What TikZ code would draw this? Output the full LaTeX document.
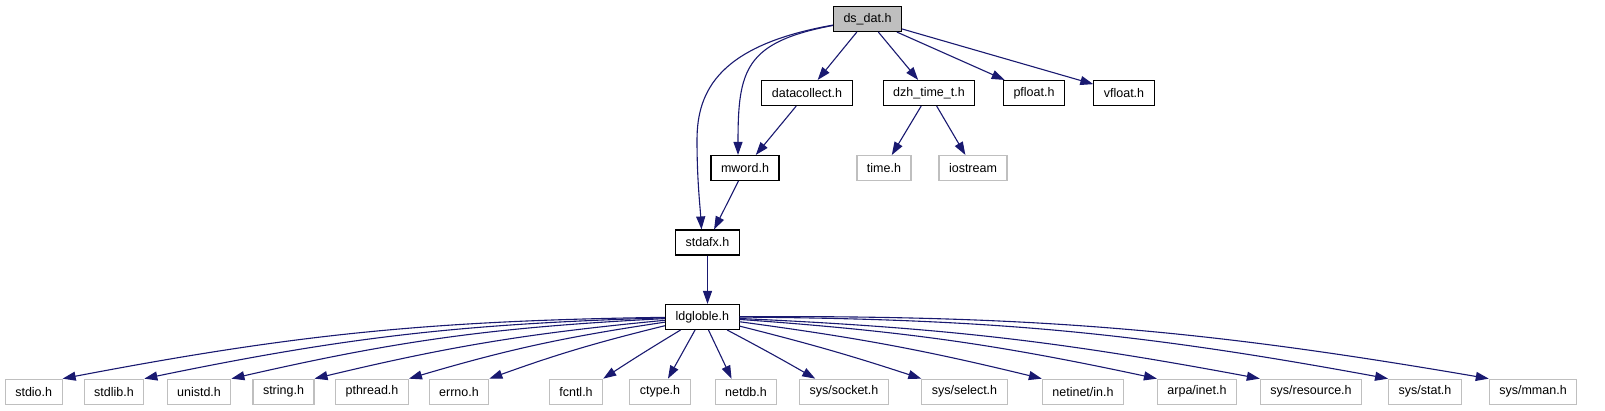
\documentclass[tikz,border=0pt]{standalone}
\usepackage{fontspec}
\setmainfont{Liberation Sans}
\usetikzlibrary{arrows.meta,calc}
\definecolor{navyedge}{HTML}{191970}
\definecolor{boxgray}{HTML}{BFBFBF}
\tikzset{
  hdr/.style={draw=black, fill=white, line width=1.1pt, minimum height=25pt,
              inner xsep=10pt, inner ysep=0pt},
  sys/.style={hdr, draw=boxgray},
  root/.style={hdr, fill=boxgray},
  dep/.style={draw=navyedge, line width=1.1pt, -{Triangle[length=13pt,width=9pt]}}
}

\begin{document}
\begin{tikzpicture}[font=\fontsize{12.5}{15}\selectfont, x=1pt, y=-1pt]
    \useasboundingbox (0,0) rectangle (1605,411);
    % top levels
    \node[root] (ds) at (867.5,19) {ds\_dat.h};
    \node[hdr] (collect) at (807,93) {datacollect.h};
    \node[hdr] (dzh) at (929,93) {dzh\_time\_t.h};
    \node[hdr] (pfloat) at (1034,93) {pfloat.h};
    \node[hdr] (vfloat) at (1124,93) {vfloat.h};
    \node[hdr] (mword) at (745,168) {mword.h};
    \node[sys] (time) at (884,168) {time.h};
    \node[sys] (iostream) at (973,168) {iostream};
    \node[hdr] (stdafx) at (707.5,242.5) {stdafx.h};
    \node[hdr] (ld) at (702.3,317) {ldgloble.h};

    \draw[dep] (ds) -- (collect);
    \draw[dep] (ds) -- (dzh);
    \draw[dep] (ds) -- (pfloat);
    \draw[dep] (ds) -- (vfloat);
    \draw[dep] (ds) .. controls (745,42) and (738,70) .. ([xshift=-7pt]mword.north);
    \draw[dep] (ds) .. controls (720,45) and (697,90) .. (697,140)
                    .. controls (697,180) and (700,205) .. ([xshift=-6pt]stdafx.north);
    \draw[dep] (collect) -- (mword);
    \draw[dep] (dzh) -- (time);
    \draw[dep] (dzh) -- (iostream);
    \draw[dep] (mword) -- (stdafx);
    \draw[dep] (stdafx) -- (stdafx |- ld.north);

    % system headers
    \foreach \n/\x/\t/\f/\b in {stdio/33.7/stdio.h/1/-5, stdlib/114/stdlib.h/1/-5,
        unistd/199/unistd.h/1/-5, string/283.5/string.h/1/-4, pthread/372/pthread.h/1/-4,
        errno/459/errno.h/1/-3, fcntl/576/fcntl.h/1/-1, ctype/660/ctype.h/0.63/0,
        netdb/746/netdb.h/0.27/0, socket/844/{sys/socket.h}/0.18/1,
        select/964.5/{sys/select.h}/0/2, netin/1083/{netinet/in.h}/0/3,
        inet/1197/{arpa/inet.h}/0/4, resource/1311/{sys/resource.h}/0/4,
        stat/1425/{sys/stat.h}/0/5, mman/1533/{sys/mman.h}/0/5} {
      \node[sys] (\n) at (\x,391.7) {\t};
      \draw[dep] (ld) to[bend left=\b] ($(\n.north west)!\f!(\n.north east)$);
    }
\end{tikzpicture}
\end{document}
